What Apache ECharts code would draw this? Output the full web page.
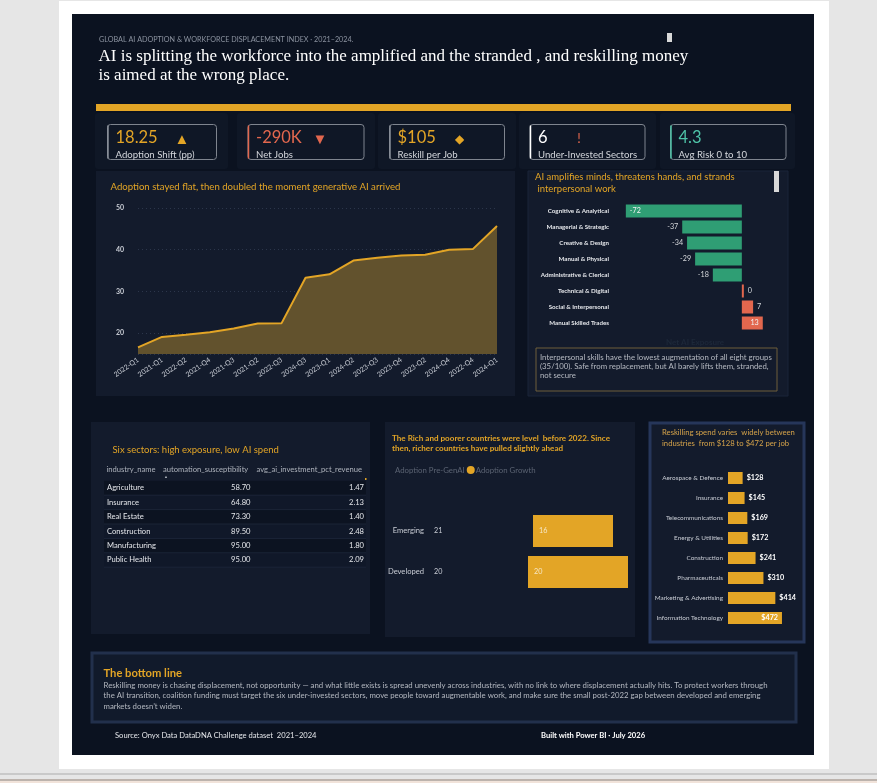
<!DOCTYPE html>
<html>
<head>
<meta charset="utf-8">
<title>AI Adoption & Workforce Displacement</title>
<script src="https://cdn.jsdelivr.net/npm/echarts@6/dist/echarts.min.js"></script>
<style>
  html, body { margin: 0; padding: 0; background: #e6e6e6; }
  #chart { width: 877px; height: 783px; }
</style>
</head>
<body>
<div id="chart"></div>
<script>
// ---- data ----
const quarters = ['2022-Q1', '2021-Q1', '2022-Q2', '2021-Q4', '2021-Q3', '2021-Q2', '2022-Q3', '2024-Q3',
  '2023-Q1', '2024-Q2', '2023-Q3', '2023-Q4', '2023-Q2', '2024-Q4', '2022-Q4', '2024-Q1'];
const adoption = [16.6, 19.1, 19.6, 20.2, 21.1, 22.3, 22.4, 33.3, 34.1, 37.4, 38.1, 38.6, 38.8, 40.0, 40.2, 45.7];

const skillGroups = ['Cognitive & Analytical', 'Managerial & Strategic', 'Creative & Design', 'Manual & Physical',
  'Administrative & Clerical', 'Technical & Digital', 'Social & Interpersonal', 'Manual Skilled Trades'];
const netExposure = [-72, -37, -34, -29, -18, 0, 7, 13];

const marketGroups = ['Emerging', 'Developed'];
const adoptionPre = [21, 20];
const adoptionGrowth = [16, 20];

const reskillIndustries = ['Aerospace & Defence', 'Insurance', 'Telecommunications', 'Energy & Utilities',
  'Construction', 'Pharmaceuticals', 'Marketing & Advertising', 'Information Technology'];
const reskillSpend = [128, 145, 169, 172, 241, 310, 414, 472];

const tableHeader = ['industry_name', 'automation_susceptibility', 'avg_ai_investment_pct_revenue'];
const tableIndustries = ['Agriculture', 'Insurance', 'Real Estate', 'Construction', 'Manufacturing', 'Public Health'];
const tableAutomation = [58.70, 64.80, 73.30, 89.50, 95.00, 95.00];
const tableInvestment = [1.47, 2.13, 1.40, 2.48, 1.80, 2.09];

const kpiValues = ['18.25', '-290K', '$105', '6', '4.3'];
const kpiIcons = ['▲', '▼', '◆', '!', ''];
const kpiLabels = ['Adoption Shift (pp)', 'Net Jobs', 'Reskill per Job', 'Under-Invested Sectors', 'Avg Risk 0 to 10'];

// ---- styling ----
const SANS = "Lato, 'Open Sans', sans-serif";
const SERIF = "'Liberation Serif', 'DejaVu Serif', serif";
const GOLD = '#e3a526';
const RED = '#e2674e';
const GREEN = '#2f9e74';
const PANEL = '#131b2c';
const AXIS_TXT = '#c8ccd4';

function txt(x, y, text, size, color, extra) {
  return {
    type: 'text', z: 20,
    style: Object.assign({
      x: x, y: y, text: text, fill: color, fontSize: size, fontFamily: SANS,
      textVerticalAlign: 'middle'
    }, extra || {})
  };
}
function box(x, y, w, h, fill, extra, z) {
  return {
    type: 'rect', z: z === undefined ? -1 : z,
    shape: { x: x, y: y, width: w, height: h, r: (extra && extra.r) || 0 },
    style: Object.assign({ fill: fill }, (extra && extra.style) || {})
  };
}

const g = [];
// page frame
g.push(box(59, 1, 770, 768, '#ffffff', null, -5));
g.push(box(72, 14, 742, 741, '#0b1220', null, -4));
g.push(box(0, 773, 877, 2, '#c9c9c9', null, -4));
g.push(box(0, 779, 877, 2, '#bcb3ad', null, -4));
g.push(box(0, 781, 877, 2, '#f1e3da', null, -4));

// header
g.push(txt(99, 40, 'GLOBAL AI ADOPTION & WORKFORCE DISPLACEMENT INDEX · 2021–2024.', 7.2, '#8c93a0'));
g.push(txt(98.5, 47.5, 'AI is splitting the workforce into the amplified and the stranded , and reskilling money\nis aimed at the wrong place.',
  17, '#ffffff', { fontFamily: SERIF, textVerticalAlign: 'top', lineHeight: 18.5 }));
g.push(box(667, 33, 5, 9, '#d8d8d8', null, 5));
g.push(box(96, 104, 695, 7, GOLD, null, 5));

// KPI cards
const cardX = [95, 237, 378, 519, 660];
const cardW = [133, 138, 138, 137, 135];
const innerX = [107.5, 248, 389.5, 530, 670.5];
const innerW = [109, 116, 115, 115, 115.5];
const iconX = [182, 320, 459, 579];
const valColor = [GOLD, RED, GOLD, '#ffffff', '#4fc4a8'];
const iconColor = [GOLD, RED, GOLD, RED];
const edgeColor = ['#8a909a', RED, '#8a909a', '#ffffff', '#4fc4a8'];
kpiValues.forEach(function (v, i) {
  g.push(box(cardX[i], 113, cardW[i], 56, '#0f1726', { r: 3 }, -3));
  g.push({
    type: 'rect', z: 2,
    shape: { x: innerX[i], y: 124.5, width: innerW[i], height: 35, r: 3 },
    style: { fill: 'transparent', stroke: '#7f858f', lineWidth: 1 }
  });
  g.push({
    type: 'line', z: 3,
    shape: { x1: innerX[i] + 0.5, y1: 125.5, x2: innerX[i] + 0.5, y2: 158.5 },
    style: { stroke: edgeColor[i], lineWidth: 1.5 }
  });
  g.push(txt(innerX[i] + 8, 138, v, 16.5, valColor[i]));
  if (kpiIcons[i]) g.push(txt(iconX[i], 139, kpiIcons[i], i === 2 ? 12 : (i === 3 ? 13 : 15), iconColor[i], { textAlign: 'center' }));
  g.push(txt(innerX[i] + 8, 154.5, kpiLabels[i], 9.6, '#d4d7dc'));
});

// panels
g.push(box(96, 171, 419, 225, PANEL, null, -3));
g.push(box(528, 171, 260, 225, PANEL, { style: { stroke: '#1b2538', lineWidth: 1 } }, -3));
g.push(box(91, 422, 279, 212, PANEL, null, -3));
g.push(box(385, 422, 250, 215, PANEL, null, -3));
g.push(box(650, 423, 154, 219, PANEL, { style: { stroke: '#26365a', lineWidth: 3 } }, -3));
g.push(box(92, 653, 704, 69, '#111a2b', { style: { stroke: '#22304c', lineWidth: 3 } }, -3));

// panel titles
g.push(txt(110.5, 187, 'Adoption stayed flat, then doubled the moment generative AI arrived', 9.6, GOLD));
g.push(txt(535, 171.5, 'AI amplifies minds, threatens hands, and strands\n interpersonal work', 9.5, GOLD,
  { textVerticalAlign: 'top', lineHeight: 11.8 }));
g.push(box(774, 171, 5, 21, '#d8d8d8', null, 5));
g.push(txt(695, 342, 'Net AI Exposure', 8, '#1d2839', { textAlign: 'center', fontWeight: 'bold' }));
g.push({
  type: 'rect', z: 2,
  shape: { x: 536, y: 348, width: 241, height: 43 },
  style: { fill: 'transparent', stroke: '#6e5f3a', lineWidth: 1 }
});
g.push(txt(540, 352.5, 'Interpersonal skills have the lowest augmentation of all eight groups\n(35/100). Safe from replacement, but AI barely lifts them, stranded,\nnot secure',
  7.8, '#b6bac2', { textVerticalAlign: 'top', lineHeight: 9.2 }));

g.push(txt(112.5, 450, 'Six sectors: high exposure, low AI spend', 9.5, GOLD));
g.push(txt(392, 433.5, 'The Rich and poorer countries were level  before 2022. Since\nthen, richer countries have pulled slightly ahead', 8.1, GOLD,
  { textVerticalAlign: 'top', lineHeight: 10, fontWeight: 'bold' }));
g.push(txt(662, 427, 'Reskilling spend varies  widely between\nindustries  from $128 to $472 per job', 7.7, '#d4a24a',
  { textVerticalAlign: 'top', lineHeight: 11 }));

// table
g.push(txt(106.5, 470, tableHeader[0], 7.6, '#aeb3bc'));
g.push(txt(163, 470, tableHeader[1], 7.6, '#aeb3bc'));
g.push(txt(256.5, 470, tableHeader[2], 7.6, '#aeb3bc'));
g.push(txt(166, 477, '▲', 4, '#aeb3bc', { textAlign: 'center' }));
g.push(box(365, 478, 1.5, 2, GOLD, null, 5));
tableIndustries.forEach(function (name, i) {
  const cy = 488 + i * 14.4;
  g.push(box(104, cy - 7.2, 262, 14.4, i % 2 === 0 ? '#0c1321' : '#101829', null, -2));
  g.push({ type: 'line', z: 2, shape: { x1: 104, y1: cy + 7.2, x2: 366, y2: cy + 7.2 }, style: { stroke: '#1b2437', lineWidth: 1 } });
  g.push(txt(107, cy, name, 7.6, '#e4e6ea'));
  g.push(txt(250.5, cy, tableAutomation[i].toFixed(2), 7.6, '#e4e6ea', { textAlign: 'right' }));
  g.push(txt(364, cy, tableInvestment[i].toFixed(2), 7.6, '#e4e6ea', { textAlign: 'right' }));
});

// bottom line
g.push(txt(103.5, 673.5, 'The bottom line', 11.2, GOLD, { fontWeight: 'bold' }));
g.push(txt(103.5, 680, 'Reskilling money is chasing displacement, not opportunity — and what little exists is spread unevenly across industries, with no link to where displacement actually hits. To protect workers through\nthe AI transition, coalition funding must target the six under-invested sectors, move people toward augmentable work, and make sure the small post-2022 gap between developed and emerging\nmarkets doesn\u2019t widen.',
  7.8, '#b4b8c0', { textVerticalAlign: 'top', lineHeight: 10.4 }));
g.push(txt(115, 735.5, 'Source: Onyx Data DataDNA Challenge dataset  2021–2024', 7.6, '#e4e6ea'));
g.push(txt(541, 735.5, 'Built with Power BI · July 2026', 7.6, '#ffffff', { fontWeight: 'bold' }));

// ---- chart ----
const chart = echarts.init(document.getElementById('chart'));
chart.setOption({
  animation: false,
  backgroundColor: '#e6e6e6',
  textStyle: { fontFamily: SANS },
  graphic: { elements: g },
  legend: {
    data: [{ name: 'Adoption Pre-GenAI' }, { name: 'Adoption Growth' }],
    left: 381, top: 461,
    icon: 'circle', itemWidth: 8, itemHeight: 8, itemGap: 2,
    selectedMode: false,
    textStyle: { color: '#5b6372', fontSize: 7.8, fontFamily: SANS, padding: [0, 0, 0, -4] }
  },
  grid: [
    { left: 138, top: 208, width: 359, height: 146 },
    { left: 621, top: 203, width: 145, height: 128 },
    { left: 428, top: 510.5, width: 200, height: 82 },
    { left: 728, top: 468, width: 68.6, height: 160 }
  ],
  xAxis: [
    {
      gridIndex: 0, type: 'category', data: quarters, boundaryGap: false,
      axisLine: { show: false }, axisTick: { show: false },
      axisLabel: { rotate: 35, interval: 0, fontSize: 7, color: AXIS_TXT, margin: 5 }
    },
    {
      gridIndex: 1, type: 'value', min: -75, max: 15,
      axisLine: { show: false }, axisTick: { show: false }, axisLabel: { show: false }, splitLine: { show: false }
    },
    {
      gridIndex: 2, type: 'value', min: 0, max: 40,
      axisLine: { show: false }, axisTick: { show: false }, axisLabel: { show: false }, splitLine: { show: false }
    },
    {
      gridIndex: 3, type: 'value', min: 0, max: 600,
      axisLine: { show: false }, axisTick: { show: false }, axisLabel: { show: false }, splitLine: { show: false }
    }
  ],
  yAxis: [
    {
      gridIndex: 0, type: 'value', min: 15, max: 50,
      axisLine: { show: false }, axisTick: { show: false },
      axisLabel: { showMinLabel: false, fontSize: 7, color: AXIS_TXT, fontWeight: 'bold', margin: 14 },
      splitLine: { lineStyle: { color: '#2c364b', type: [1, 3] } }
    },
    {
      gridIndex: 1, type: 'category', data: skillGroups, inverse: true,
      axisLine: { show: false }, axisTick: { show: false },
      axisLabel: { fontSize: 6.2, fontWeight: 'bold', color: '#e4e6ea', margin: 12 }
    },
    {
      gridIndex: 2, type: 'category', data: marketGroups, inverse: true,
      axisLine: { show: false }, axisTick: { show: false },
      axisLabel: { fontSize: 7.6, color: AXIS_TXT, margin: 4 }
    },
    {
      gridIndex: 3, type: 'category', data: reskillIndustries, inverse: true,
      axisLine: { show: false }, axisTick: { show: false },
      axisLabel: { fontSize: 6.4, color: AXIS_TXT, margin: 5 }
    }
  ],
  series: [
    {
      name: 'Adoption', type: 'line', xAxisIndex: 0, yAxisIndex: 0, data: adoption,
      symbol: 'none', lineStyle: { color: GOLD, width: 2 },
      areaStyle: { color: '#62522d', opacity: 1, origin: 'start' }
    },
    {
      name: 'Net AI Exposure', type: 'bar', xAxisIndex: 1, yAxisIndex: 1, barWidth: 13, barMinHeight: 2,
      data: netExposure.map(function (v, i) {
        let pos = v < 0 ? 'left' : 'right';
        if (i === 0) pos = 'insideLeft';
        if (i === netExposure.length - 1) pos = 'insideRight';
        return {
          value: v,
          itemStyle: { color: v < 0 ? GREEN : RED },
          label: { position: pos, color: pos.indexOf('inside') === 0 ? '#f2f2f2' : '#d6d8dc' }
        };
      }),
      label: { show: true, fontSize: 7.2, distance: 4 }
    },
    {
      name: 'Adoption Pre-GenAI', type: 'bar', stack: 'mkt', xAxisIndex: 2, yAxisIndex: 2, barWidth: 32,
      data: adoptionPre, itemStyle: { color: 'rgba(0,0,0,0)' },
      label: { show: true, position: 'insideLeft', fontSize: 7.2, color: AXIS_TXT, distance: 6 }
    },
    {
      name: 'Adoption Growth', type: 'bar', stack: 'mkt', xAxisIndex: 2, yAxisIndex: 2, barWidth: 32,
      data: adoptionGrowth, itemStyle: { color: GOLD },
      label: { show: true, position: 'insideLeft', fontSize: 7.2, color: '#f6e7c6', distance: 6 }
    },
    {
      name: 'Reskill per Job', type: 'bar', xAxisIndex: 3, yAxisIndex: 3, barWidth: 12,
      itemStyle: { color: GOLD },
      data: reskillSpend.map(function (v, i) {
        return { value: v, label: { position: i === reskillSpend.length - 1 ? 'insideRight' : 'right' } };
      }),
      label: {
        show: true, fontSize: 7.2, fontWeight: 'bold', color: '#ffffff', distance: 4,
        formatter: function (p) { return '$' + p.value; }
      }
    }
  ]
});
</script>
</body>
</html>
